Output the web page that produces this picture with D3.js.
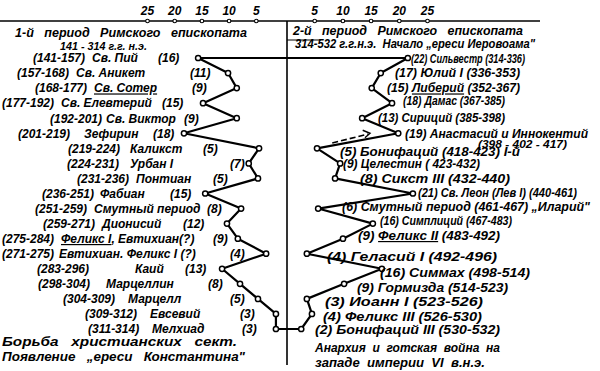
<!DOCTYPE html>
<html>
<head>
<meta charset="utf-8">
<script src="https://cdn.jsdelivr.net/npm/d3@7"></script>
<style>
  body { margin: 0; background: #fff; }
  text {
    font-family: "Liberation Sans", Arial, sans-serif;
    font-style: italic; font-weight: bold; font-size: 12px; fill: #000;
  }
</style>
</head>
<body>
<div id="chart"></div>
<script>
// ---- data: left column, 1st period (141-314) ----
var leftYears = ["(141-157)", "(157-168)", "(168-177)", "(177-192)", "(192-201)", "(201-219)",
  "(219-224)", "(224-231)", "(231-236)", "(236-251)", "(251-259)", "(259-271)",
  "(275-284)", "(271-275)", "(283-296)", "(298-304)", "(304-309)", "(309-312)", "(311-314)"];
var leftNames = ["Св. Пий", "Св. Аникет", "Св. Сотер", "Св. Елевтерий", "Св. Виктор", "Зефирин",
  "Каликст", "Урбан I", "Понтиан", "Фабиан", "Смутный период", "Дионисий",
  "Феликс I, Евтихиан(?)", "Евтихиан. Феликс I (?)", "Каий", "Марцеллин", "Марцелл", "Евсевий", "Мелхиад"];
var leftReign = [16, 11, 9, 15, 9, 18, 5, 7, 5, 15, 8, 12, 9, 4, 13, 8, 5, 3, 3];
// where the points were drawn (hand plotted)
var leftPlot = [15.6, 10.1, 8.5, 14.7, 8.5, 18.2, 4.4, 6.3, 4.6, 14.3, 7.7, 10.3, 8.3, 3.1, 11.2, 7.9, 4.6, 1.3, 1.3];

// ---- data: right column, 2nd period (314-532) ----
var rightNames = ["Сильвестр", "Юлий I", "Либерий", "Дамас", "Сириций", "Анастасий и Иннокентий",
  "Бонифаций", "Целестин", "Сикст III", "Св. Леон (Лев I)", "Смутный период", "Симплиций",
  "Феликс II", "Геласий I", "Симмах", "Гормизда", "Иоанн I", "Феликс III", "Бонифаций III"];
var rightYears = ["(314-336)", "(336-353)", "(352-367)", "(367-385)", "(385-398)", "",
  "(418-423) I-й", "( 423-432)", "(432-440)", "(440-461)", "(461-467) „Иларий\"", "(467-483)",
  "(483-492)", "(492-496)", "(498-514)", "(514-523)", "(523-526)", "(526-530)", "(530-532)"];
var rightReign = [22, 17, 15, 18, 13, 19, 5, 9, 8, 21, 6, 16, 9, 4, 16, 9, 3, 4, 2];
var rightPlot = [21.6, 16.8, 15.2, 18.8, 13.5, 19.9, 5.5, 9.6, 8.7, 22.5, 5.7, 15.4, 10.1, 3.7, 17, 10.3, 3.7, 4.6, 2.7];

var axisTicks = [5, 10, 15, 20, 25];

// label layout (pixels): left = [years x, name x, value x], right = [start x, end x, y shift]
var leftPos = [[33,92,158],[17,76,190],[35,94,192],[2,61,162],[50,106,184],[18,84,153],
  [68,130,203],[67,130,230],[77,136,213],[42,100,170],[35,94,207],[43,102,183],
  [2,61,213],[2,59,230],[37,135,185],[38,106,208],[63,128,230],[85,150,240],[88,152,242]];
var rightPos = [[411,525,1],[395,520,0],[387,520,0],[403,505,-2],[378,505,-1],[405,588,0],[340,520,3],
  [343,480,0],[360,510,0],[418,577,-1],[342,590,-2],[380,512,-3],[358,500,-3],[327,497,3],
  [380,530,4],[357,508,4],[325,483,3],[323,482,3],[315,500,1]];

var width = 600, height = 371;

var svg = d3.select("#chart").append("svg")
  .attr("width", width)
  .attr("height", height);

// scales: two mirrored value axes meeting at the divider, one row per pope
var xL = d3.scaleLinear().domain([0, 25]).range([283, 147]);
var xR = d3.scaleLinear().domain([0, 25]).range([286, 427]);
var y = d3.scaleLinear().domain([0, 18]).range([58, 329]);

// top axis line and divider
svg.append("line").attr("x1", 0).attr("x2", 540).attr("y1", 21).attr("y2", 21)
  .attr("stroke", "#000").attr("stroke-width", 1.6);
svg.append("line").attr("x1", 287).attr("x2", 287).attr("y1", 21).attr("y2", 365)
  .attr("stroke", "#000").attr("stroke-width", 1.6);
svg.append("line").attr("x1", 287).attr("x2", 321).attr("y1", 40).attr("y2", 40)
  .attr("stroke", "#000").attr("stroke-width", 1.2);

[xL, xR].forEach(function(sc) {
  var g = svg.append("g")
    .attr("transform", "translate(0,21)")
    .call(d3.axisTop(sc).tickValues(axisTicks).tickSize(0).tickPadding(6));
  g.select(".domain").remove();
  g.selectAll("text").attr("font-size", null).attr("font-family", null);
  g.selectAll(".tick").append("circle")
    .attr("r", 1.8).attr("fill", "#fff").attr("stroke", "#000").attr("stroke-width", 1.1);
});

// connecting lines
var lineL = d3.line().x(function(d) { return xL(d); }).y(function(d, i) { return y(i); });
var lineR = d3.line().x(function(d) { return xR(d); }).y(function(d, i) { return y(i); });
var last = leftPlot.length - 1;

svg.append("path").attr("d", lineL(leftPlot))
  .attr("fill", "none").attr("stroke", "#000").attr("stroke-width", 2.2).attr("stroke-linejoin", "round");
svg.append("path").attr("d", lineR(rightPlot))
  .attr("fill", "none").attr("stroke", "#000").attr("stroke-width", 2.2).attr("stroke-linejoin", "round");
svg.append("line")
  .attr("x1", xL(leftPlot[0])).attr("y1", y(0)).attr("x2", xR(rightPlot[0])).attr("y2", y(0))
  .attr("stroke", "#000").attr("stroke-width", 2);
svg.append("line")
  .attr("x1", xL(leftPlot[last])).attr("y1", y(last)).attr("x2", xR(rightPlot[last])).attr("y2", y(last))
  .attr("stroke", "#000").attr("stroke-width", 2);

// dashed link Сириций -> Анастасий
svg.append("path")
  .attr("d", d3.line()([[xR(8.2), y(5.65)], [xR(14.5), y(5.05)]]))
  .attr("fill", "none").attr("stroke", "#000").attr("stroke-width", 1.6).attr("stroke-dasharray", "6,3");
svg.append("path")
  .attr("d", d3.line()([[xR(13.6), y(4.8)], [xR(14.9), y(5.0)], [xR(14.0), y(5.3)]]))
  .attr("fill", "none").attr("stroke", "#000").attr("stroke-width", 1.4);

// points
svg.selectAll(".pl").data(leftPlot).enter().append("circle")
  .attr("cx", function(d) { return xL(d); }).attr("cy", function(d, i) { return y(i); })
  .attr("r", 2.6).attr("fill", "#fff").attr("stroke", "#000").attr("stroke-width", 1.5);
svg.selectAll(".pr").data(rightPlot).enter().append("circle")
  .attr("cx", function(d) { return xR(d); }).attr("cy", function(d, i) { return y(i); })
  .attr("r", 2.6).attr("fill", "#fff").attr("stroke", "#000").attr("stroke-width", 1.5);

// left labels: years, name, reign length
leftNames.forEach(function(name, i) {
  var p = leftPos[i], yy = y(i);
  svg.append("text").attr("x", p[0]).attr("y", yy).attr("dy", "0.36em").text(leftYears[i]);
  var t = svg.append("text").attr("x", p[1]).attr("y", yy).attr("dy", "0.36em");
  if (i === 2) {
    t.append("tspan").style("text-decoration", "underline wavy").text(name);
  } else if (i === 12) {
    t.append("tspan").style("text-decoration", "underline").text("Феликс I");
    t.append("tspan").text(name.slice(8));
  } else {
    t.text(name);
  }
  svg.append("text").attr("x", p[2]).attr("y", yy).attr("dy", "0.36em").text("(" + leftReign[i] + ")");
});

// right labels: reign length, name, years
rightNames.forEach(function(name, i) {
  var p = rightPos[i], yy = y(i) + p[2];
  var t = svg.append("text").attr("x", p[0]).attr("y", yy).attr("dy", "0.36em")
    .attr("textLength", p[1] - p[0]).attr("lengthAdjust", "spacingAndGlyphs");
  var tail = rightYears[i] ? " " + rightYears[i] : "";
  if (i === 2 || i === 12) {
    t.append("tspan").text("(" + rightReign[i] + ") ");
    t.append("tspan").style("text-decoration", "underline").text(name);
    t.append("tspan").text(tail);
  } else {
    t.text("(" + rightReign[i] + ") " + name + tail);
  }
});
svg.append("text").attr("x", 478).attr("y", 144).attr("dy", "0.36em")
  .style("font-size", "10.5px")
  .attr("textLength", 89).attr("lengthAdjust", "spacingAndGlyphs").text("(398 - 402 - 417)");

// headings and notes
function note(str, x0, x1, yy, size) {
  svg.append("text").attr("x", x0).attr("y", yy).attr("dy", "0.36em")
    .style("white-space", "pre").style("font-size", (size || 12) + "px")
    .attr("textLength", x1 - x0).attr("lengthAdjust", "spacingAndGlyphs").text(str);
}
note("1-й   период   Римского   епископата", 15, 247, 33);
note("141 - 314 г.г. н.э.", 60, 147, 46, 11);
note("2-й   период   Римского   епископата", 293, 523, 31);
note("314-532 г.г.н.э.  Начало „ереси Иеровоама\"", 295, 535, 44);
note("Борьба   христианских   сект.", 2, 237, 342);
note("Появление   „ереси   Константина\"", 2, 245, 357);
note("Анархия  и  готская  война  на", 315, 500, 348);
note("западе  империи  VI  в.н.э.", 315, 485, 363);
</script>
</body>
</html>
